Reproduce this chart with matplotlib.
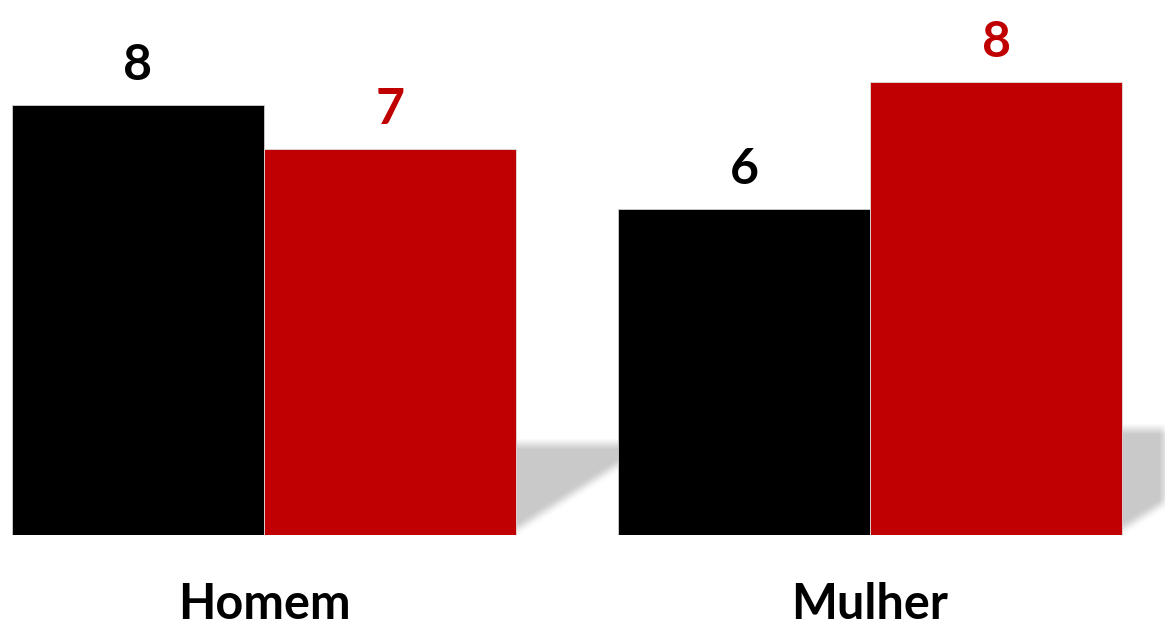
import matplotlib
matplotlib.use("Agg")
import matplotlib.pyplot as plt
import numpy as np

# respostas por grupo
grupos = ["Homem", "Mulher"]
serie_preta = [7.82, 5.93]
serie_vermelha = [7.02, 8.24]

cor_preta = "#000000"
cor_vermelha = "#C00000"

W, H, DPI = 1165, 626, 100
fig = plt.figure(figsize=(W / DPI, H / DPI), dpi=DPI)
ax = fig.add_axes([0, 91 / H, 1, 535 / H])

x = np.arange(len(grupos))
w = 0.416
x0, x1 = -0.4356, 1.4868
y0, y1 = 0, 9.727
ax.set_xlim(x0, x1)
ax.set_ylim(y0, y1)

b1 = ax.bar(x - w / 2, serie_preta, w, color=cor_preta, edgecolor="#d0d0d0",
            linewidth=0.6, zorder=3)
b2 = ax.bar(x + w / 2, serie_vermelha, w, color=cor_vermelha, edgecolor="#e0e0e0",
            linewidth=0.6, zorder=3)

# sombra suave atrás de cada grupo (começa no meio do grupo, fica escondida pelas barras)
ny, nx = 535, W
gx = np.linspace(x0, x1, nx)
gy = np.linspace(y1, y0, ny)
X, Y = np.meshgrid(gx, gy)
mask = np.zeros_like(X)
alturas_sombra = [1.65, 1.92]
base = 0.09
incl = 7.0
for i, ht in enumerate(alturas_sombra):
    dir_ = x[i] + w
    dentro = (Y >= base) & (Y <= ht) & (X >= x[i]) & (X <= dir_ + (Y - base) / incl)
    mask[dentro] = 1.0

k = np.ones(11) / 11
mask = np.apply_along_axis(lambda r: np.convolve(r, k, mode="same"), 1, mask)
mask = np.apply_along_axis(lambda c: np.convolve(c, k, mode="same"), 0, mask)
rgba = np.zeros((ny, nx, 4))
rgba[..., :3] = 0.79
rgba[..., 3] = mask
ax.imshow(rgba, extent=(x0, x1, y0, y1), aspect="auto", zorder=1, interpolation="bilinear")

fonte = ["Lato", "DejaVu Sans"]
for barras, cor in ((b1, cor_preta), (b2, cor_vermelha)):
    for r in barras:
        v = r.get_height()
        ax.annotate(f"{v:.0f}", (r.get_x() + r.get_width() / 2, v),
                    xytext=(0, 18), textcoords="offset points",
                    ha="center", va="baseline", fontsize=36, fontweight="bold",
                    color=cor, family=fonte)

for i, g in enumerate(grupos):
    ax.annotate(g, (x[i], 0), xytext=(0, -60.5), textcoords="offset points",
                ha="center", va="baseline", fontsize=35, fontweight="bold",
                color="black", family=fonte, annotation_clip=False)

ax.axis("off")
fig.savefig("out.png", dpi=DPI, facecolor="white")
